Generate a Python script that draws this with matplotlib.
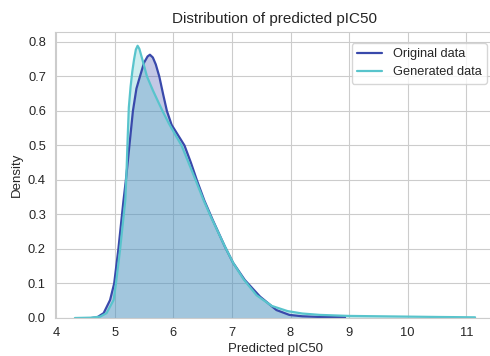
import matplotlib
matplotlib.use("Agg")
import matplotlib.pyplot as plt
import seaborn as sns

# density curves
orig_x = [4.60, 4.70, 4.81, 4.92, 4.99, 5.06, 5.12, 5.15, 5.19, 5.25, 5.31, 5.37,
          5.43, 5.50, 5.56, 5.60, 5.65, 5.70, 5.76, 5.83, 5.89, 5.97, 6.08, 6.19,
          6.30, 6.40, 6.53, 6.67, 6.88, 7.02, 7.22, 7.48, 7.76, 7.98, 8.20, 8.50, 8.93]
orig_y = [0.000, 0.002, 0.014, 0.052, 0.100, 0.197, 0.294, 0.342, 0.400, 0.500, 0.600, 0.665,
          0.700, 0.740, 0.758, 0.763, 0.755, 0.735, 0.700, 0.645, 0.600, 0.560, 0.530, 0.500,
          0.450, 0.400, 0.340, 0.285, 0.207, 0.160, 0.110, 0.062, 0.023, 0.009, 0.005, 0.003, 0.002]

gen_x = [4.32, 4.60, 4.75, 4.86, 4.98, 5.02, 5.09, 5.15, 5.18, 5.20, 5.22, 5.24, 5.27,
         5.30, 5.33, 5.36, 5.39, 5.42, 5.47, 5.55, 5.65, 5.74, 5.83, 5.92, 6.02, 6.14, 6.26,
         6.38, 6.52, 6.65, 6.88, 7.02, 7.20, 7.42, 7.68, 7.95, 8.20, 8.50, 9.00, 9.50,
         10.00, 10.50, 11.15]
gen_y = [0.000, 0.001, 0.004, 0.014, 0.052, 0.100, 0.197, 0.294, 0.342, 0.420, 0.520, 0.610, 0.670,
         0.715, 0.750, 0.778, 0.789, 0.780, 0.750, 0.700, 0.660, 0.627, 0.595, 0.565, 0.535, 0.500,
         0.450, 0.400, 0.340, 0.290, 0.207, 0.160, 0.112, 0.066, 0.035, 0.020, 0.013, 0.009, 0.006,
         0.005, 0.004, 0.003, 0.002]

labels = ["Original data", "Generated data"]
colors = ["#3949ab", "#58c4cc"]

sns.set_style("whitegrid")
plt.rcParams['font.family'] = ['Liberation Sans', 'DejaVu Sans']

fig = plt.figure(figsize=(4.9, 3.56), dpi=100)
ax = fig.add_axes([55 / 490, 38 / 356, 440 / 490, 285.7 / 356])

for xs, ys, lab, col in zip([orig_x, gen_x], [orig_y, gen_y], labels, colors):
    ax.plot(xs, ys, color=col, lw=1.6, label=lab)
    ax.fill_between(xs, ys, color=col, alpha=0.3, lw=0)

ax.set_xlim(3.98, 11.49)
ax.set_ylim(0, 0.828)
ax.set_xticks(range(4, 12))
ax.set_yticks([0.0, 0.1, 0.2, 0.3, 0.4, 0.5, 0.6, 0.7, 0.8])
ax.tick_params(labelsize=9.3, colors='0.15', pad=3)

ax.set_title("Distribution of predicted pIC50", fontsize=11, color='0.15', pad=7)
ax.set_xlabel("Predicted pIC50", fontsize=9.5, color='0.15', labelpad=3)
ax.set_ylabel("Density", fontsize=9.5, color='0.15', labelpad=4)

leg = ax.legend(loc='upper left', bbox_to_anchor=(0.66, 0.985), fontsize=9.2, frameon=True)

fig.savefig("out.png", dpi=100)
